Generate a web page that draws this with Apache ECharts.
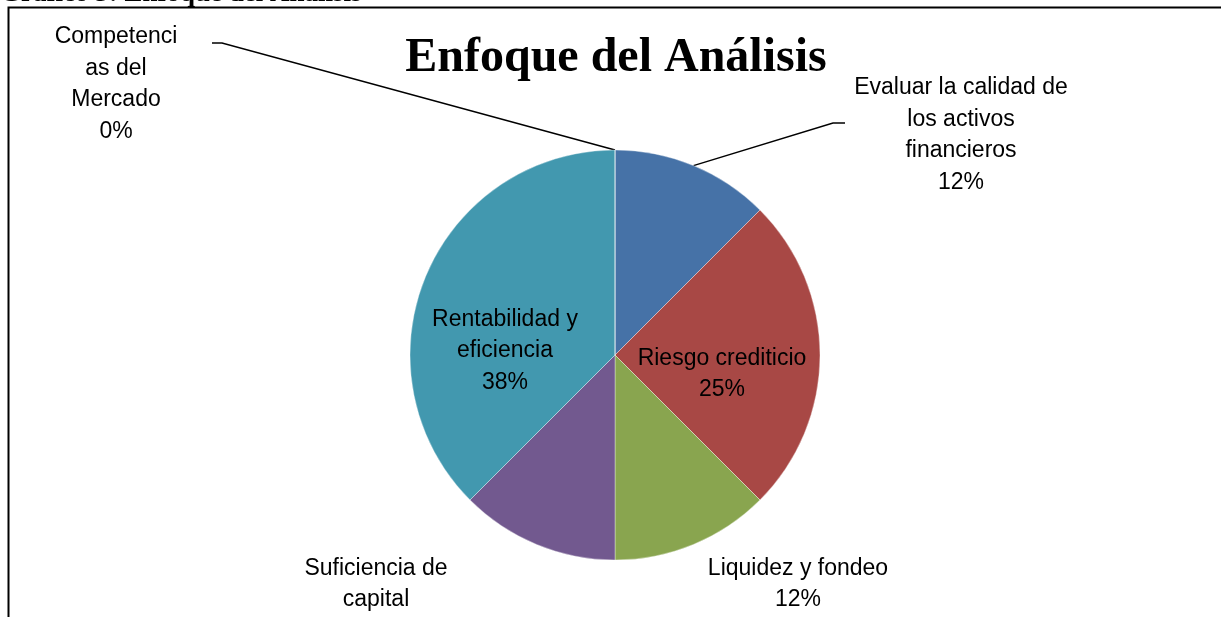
<!DOCTYPE html>
<html lang="es" style="height: 100%">
<head>
    <meta charset="UTF-8">
    <title>Enfoque del Análisis</title>
    <script src="https://cdn.jsdelivr.net/npm/echarts@6/dist/echarts.min.js"></script>
</head>
<body style="height: 100%; margin: 0; background: #fff">
<div id="container" style="width: 1222px; height: 617px"></div>

<script type="text/javascript">
    // data
    var categories = ['Evaluar la calidad de los activos financieros', 'Riesgo crediticio', 'Liquidez y fondeo',
        'Suficiencia de capital', 'Rentabilidad y eficiencia', 'Competencias del Mercado'];
    var values = [12.5, 25, 12.5, 12.5, 37.5, 0];
    // how the names are broken into lines on the chart
    var labelNames = ['Evaluar la calidad de\nlos activos\nfinancieros', 'Riesgo crediticio', 'Liquidez y fondeo',
        'Suficiencia de\ncapital', 'Rentabilidad y\neficiencia', 'Competenci\nas del\nMercado'];
    var colors = ['#4672A7', '#A84845', '#89A54F', '#72598F', '#4298AF', '#DA8137'];

    // label centres and leader line elbows (layout only)
    var labelPos = [[961, 135], [722, 374], [798, 584], [376, 600], [505, 351], [116, 84]];
    var leaderElbow = {0: [[833, 123], [845, 123]], 5: [[222, 43], [212, 43]]};

    // excel style rounding (half to even)
    function pct(p) {
        var f = Math.floor(p);
        if (Math.abs(p - f - 0.5) < 1e-9) return (f % 2 === 0 ? f : f + 1);
        return Math.round(p);
    }

    var dom = document.getElementById("container");
    var myChart = echarts.init(dom, null, {renderer: 'canvas'});

    var data = categories.map(function (c, i) {
        return {
            name: c,
            value: values[i],
            itemStyle: {color: colors[i]},
            labelLine: {show: leaderElbow[i] !== undefined}
        };
    });

    var option = {
        animation: false,
        title: {
            text: 'Enfoque del Análisis',
            left: 611,
            textAlign: 'center',
            top: 30,
            textStyle: {
                fontFamily: 'Liberation Serif',
                fontWeight: 'bold',
                fontSize: 48,
                color: '#000'
            }
        },
        graphic: [
            {
                type: 'polyline',
                shape: {points: [[8.5, 617], [8.5, 7.5], [1221, 7.5]]},
                style: {stroke: '#000', lineWidth: 2, fill: null}
            },
            {
                type: 'text',
                x: 0,
                y: -19,
                style: {
                    text: 'Gráfico 3: Enfoque del Análisis',
                    font: 'bold 27px "Liberation Serif"',
                    fill: '#000'
                }
            }
        ],
        series: [
            {
                name: 'Enfoque del Análisis',
                type: 'pie',
                radius: 205,
                center: [615, 355],
                startAngle: 90,
                clockwise: true,
                avoidLabelOverlap: false,
                minShowLabelAngle: 0,
                itemStyle: {borderColor: 'rgba(255,255,255,0.45)', borderWidth: 0.8},
                label: {
                    show: true,
                    position: 'outside',
                    color: '#000',
                    fontFamily: 'Liberation Sans',
                    fontSize: 23,
                    lineHeight: 31.5,
                    align: 'center',
                    formatter: function (p) {
                        return labelNames[p.dataIndex] + '\n' + pct(p.percent) + '%';
                    }
                },
                labelLine: {
                    show: false,
                    lineStyle: {color: '#000', width: 1.5}
                },
                labelLayout: function (params) {
                    var i = params.dataIndex;
                    var pos = labelPos[i];
                    var out = {
                        x: pos[0],
                        y: pos[1],
                        align: 'center',
                        verticalAlign: 'middle'
                    };
                    if (leaderElbow[i] && params.labelLinePoints) {
                        var start = params.labelLinePoints[0];
                        out.labelLinePoints = [start, leaderElbow[i][0], leaderElbow[i][1]];
                    }
                    return out;
                },
                data: data
            }
        ]
    };
    myChart.setOption(option, true);
</script>
</body>
</html>
